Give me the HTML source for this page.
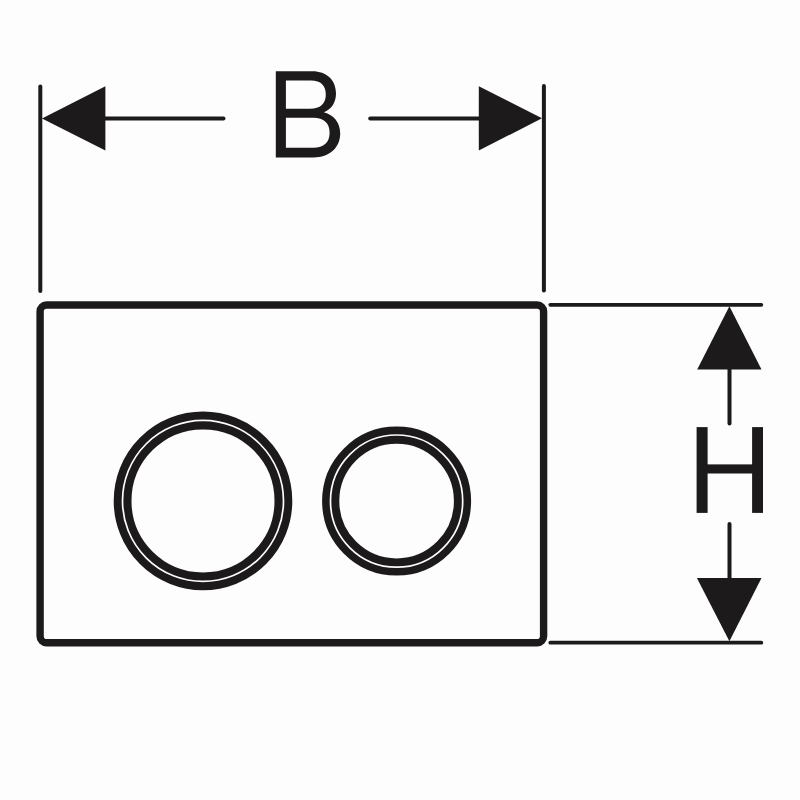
<!DOCTYPE html>
<html>
<head>
<meta charset="utf-8">
<style>
html,body{margin:0;padding:0;background:#fdfdfd;}
body{width:800px;height:800px;overflow:hidden;font-family:"Liberation Sans",sans-serif;}
svg{display:block;}
</style>
</head>
<body>
<svg width="800" height="800" viewBox="0 0 800 800">
  <rect x="0" y="0" width="800" height="800" fill="#fdfdfd"/>
  <g>
  <g fill="none" stroke="#1c1a1b" stroke-linecap="round">
    <!-- plate -->
    <rect x="40.1" y="305" width="503.5" height="337.7" rx="6.5" ry="6.5" stroke-width="7.4"/>
    <!-- vertical extension lines -->
    <line x1="40.3" y1="86.4" x2="40.3" y2="291" stroke-width="4"/>
    <line x1="543.9" y1="86" x2="543.9" y2="290.5" stroke-width="4"/>
    <!-- horizontal extension lines -->
    <line x1="550.3" y1="304.8" x2="761.3" y2="304.8" stroke-width="3.8"/>
    <line x1="550.3" y1="642.7" x2="761.3" y2="642.7" stroke-width="3.8"/>
    <!-- B dimension line -->
    <line x1="100" y1="118.5" x2="223.5" y2="118.5" stroke-width="4"/>
    <line x1="370.2" y1="118.5" x2="485" y2="118.5" stroke-width="4"/>
    <!-- H dimension line -->
    <line x1="729.5" y1="360" x2="729.5" y2="423.4" stroke-width="4"/>
    <line x1="729.5" y1="524" x2="729.5" y2="585" stroke-width="4"/>
    <!-- buttons -->
    <circle cx="203" cy="500.9" r="85.325" stroke-width="7.95"/>
    <circle cx="203" cy="500.9" r="75.575" stroke-width="8.15"/>
    <circle cx="396.6" cy="501.1" r="70.725" stroke-width="7.55"/>
    <circle cx="396.6" cy="501.1" r="61.275" stroke-width="7.95"/>
  </g>
  <g fill="#1c1a1b" stroke="none">
    <polygon points="42,118.4 105.4,86.2 105.4,150.4"/>
    <polygon points="542,118.2 478.8,86.2 478.8,150.6"/>
    <polygon points="729.4,306.2 697.2,369.4 761.5,369.4"/>
    <polygon points="729.4,641.3 696.9,578.1 761.5,578.1"/>
    <!-- H -->
    <rect x="696.6" y="427.1" width="11" height="85.8"/>
    <rect x="752.1" y="427.1" width="10.9" height="85.8"/>
    <rect x="700" y="464.4" width="58" height="9.1"/>
    <!-- B -->
    <path fill-rule="evenodd" d="M275.8,71.2 H312.5 C326.5,71.2 336,79.8 336,93.5 C336,102.5 331.5,109.3 323.8,112.2 C334,115 340.2,122.6 340.2,133.3 C340.2,148 329.5,157.4 313.5,157.4 H275.8 Z
      M285.9,80.5 H311 C321,80.5 325.8,85.6 325.8,94.5 C325.8,103.6 320.5,108.8 310,108.8 H285.9 Z
      M285.9,117.8 H313.2 C324,117.8 329.6,123.2 329.6,132.8 C329.6,142.4 324,147.7 313.2,147.7 H285.9 Z"/>
  </g>
  </g>
</svg>
</body>
</html>
